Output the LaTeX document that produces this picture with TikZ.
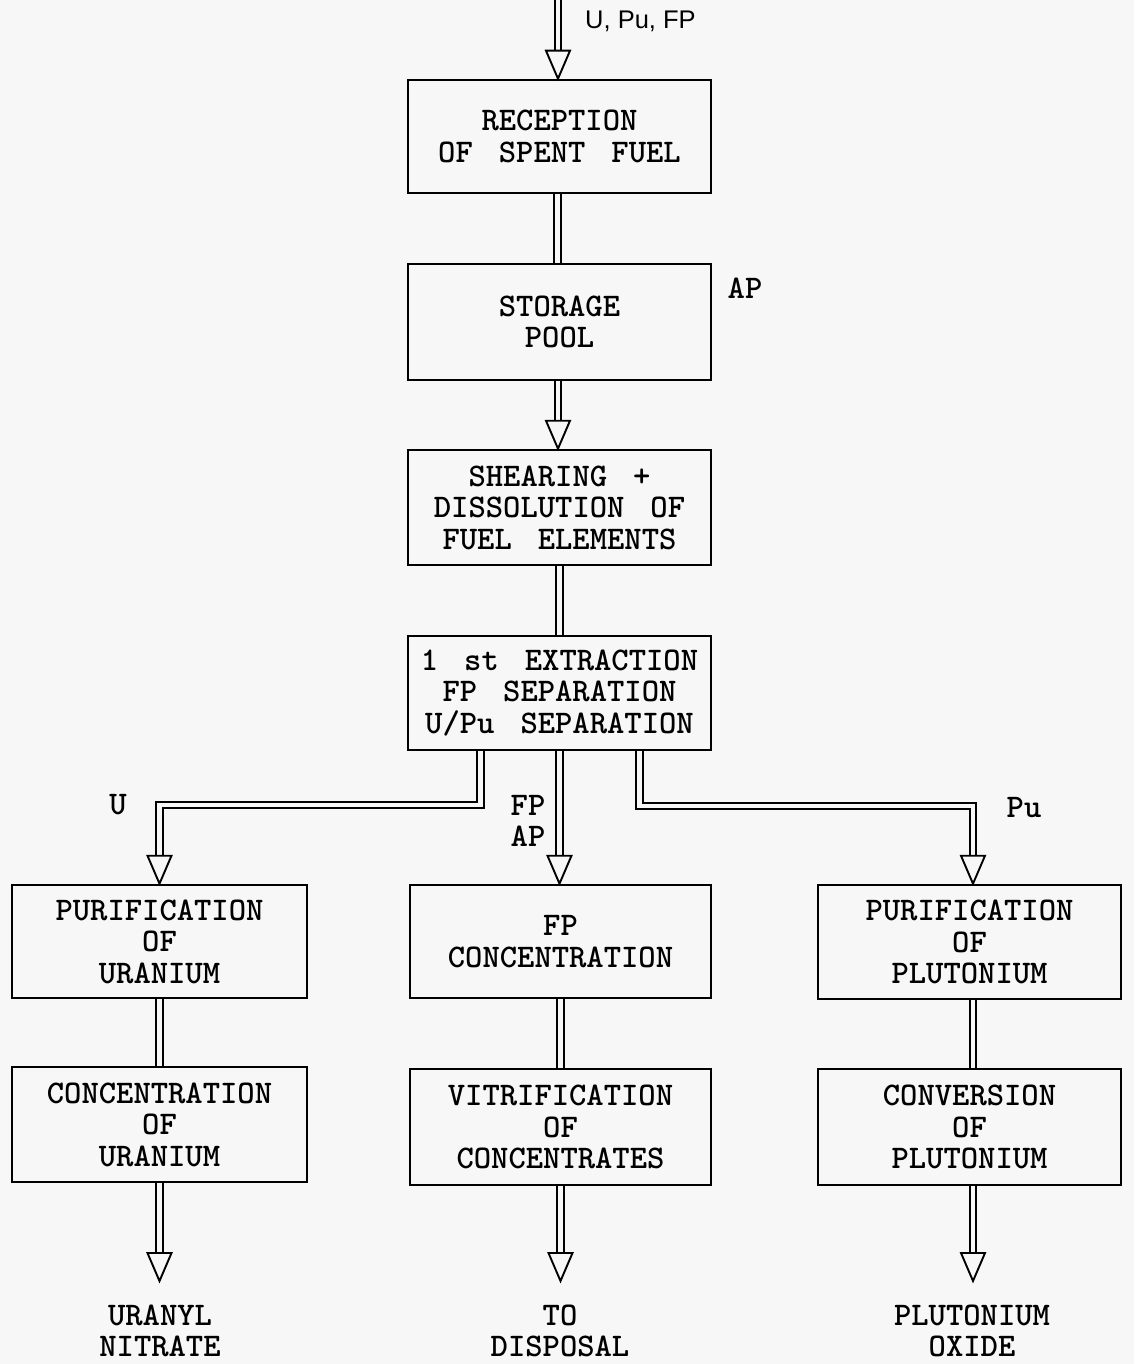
\documentclass[tikz,border=0pt]{standalone}
\usepackage{fontspec}
\newfontfamily\tw[Extension=.otf, UprightFont=lmmono10-regular, BoldFont=lmmonolt10-bold, WordSpace=1.5]{lmmono10-regular}
\newfontfamily\labsans{Liberation Sans}
\usetikzlibrary{calc}
\definecolor{bgc}{RGB}{247,247,247}
\tikzset{
  txt/.style={font=\tw\bfseries\fontsize{33}{31.5}\selectfont},
  box/.style={draw, line width=2.6pt, inner sep=0pt, align=center, txt},
  lab/.style={inner sep=0pt, align=center, txt},
  pipe/.style={line width=1.9pt, double=bgc, double distance=4.5pt, line join=miter},
  headed/.style={pipe, shorten >=25pt},
  tip/.pic={\draw[line width=1.9pt, fill=bgc, line join=miter] (0,0) -- (-12,-28) -- (12,-28) -- cycle;}
}
\begin{document}
\begin{tikzpicture}[x=1pt,y=-1pt]
\fill[bgc] (0,0) rectangle (1134,1364);
\useasboundingbox (0,0) rectangle (1134,1364);

% boxes
\node[box, minimum width=303pt, minimum height=113pt] (rec) at (559.5,136.5) {RECEPTION\\OF SPENT FUEL};
\node[box, minimum width=303pt, minimum height=116pt] (sto) at (559.5,322) {STORAGE\\POOL};
\node[box, minimum width=303pt, minimum height=115pt] (she) at (559.5,507.5) {SHEARING +\\DISSOLUTION OF\\FUEL ELEMENTS};
\node[box, minimum width=303pt, minimum height=114pt] (ext) at (559.5,693) {1 st EXTRACTION\\FP SEPARATION\\U/Pu SEPARATION};
\node[box, minimum width=295pt, minimum height=113pt] (pu1) at (159.5,941.5) {PURIFICATION\\OF\\URANIUM};
\node[box, minimum width=301pt, minimum height=113pt] (fpc) at (560.5,941.5) {FP\\CONCENTRATION};
\node[box, minimum width=303pt, minimum height=114pt] (pp1) at (969.5,942) {PURIFICATION\\OF\\PLUTONIUM};
\node[box, minimum width=295pt, minimum height=115pt] (cu) at (159.5,1124.5) {CONCENTRATION\\OF\\URANIUM};
\node[box, minimum width=301pt, minimum height=116pt] (vit) at (560.5,1127) {VITRIFICATION\\OF\\CONCENTRATES};
\node[box, minimum width=303pt, minimum height=116pt] (cp) at (969.5,1127) {CONVERSION\\OF\\PLUTONIUM};

% output labels
\node[lab] (o1) at (160,1331) {URANYL\\NITRATE};
\node[lab] (o2) at (560,1331) {TO\\DISPOSAL};
\node[lab] (o3) at (972,1331) {PLUTONIUM\\OXIDE};

% other labels
\node[anchor=west, inner sep=0pt, font=\labsans\fontsize{25.5}{27}\selectfont] (in) at (585,21) {U, Pu, FP};
\node[lab] (ap1) at (745,288) {AP};
\node[lab] (lu) at (118,805) {U};
\node[lab] (lfp) at (528,821) {FP\\AP};
\node[lab] (lpu) at (1024,808) {Pu};

% coordinates
\coordinate (top) at (558,0);
\coordinate (ub) at (159.5,805);
\coordinate (pb) at (973,806);
\coordinate (e1) at (159.5,1281);
\coordinate (e2) at (560.5,1281);
\coordinate (e3) at (973,1281);

% connectors
\draw[headed] (top) -- (top |- rec.north);
\pic at (top |- rec.north) {tip};
\draw[pipe] ([xshift=-2pt]rec.south) -- ([xshift=-2pt]sto.north);
\draw[headed] ([xshift=-1.5pt]sto.south) -- ([xshift=-1.5pt]she.north);
\pic at ([xshift=-1.5pt]she.north) {tip};
\draw[pipe] (she.south) -- (ext.north);
\draw[headed] (ext.south) -- (ext.south |- fpc.north);
\pic at (ext.south |- fpc.north) {tip};
\draw[headed] ([xshift=-79pt]ext.south) |- (ub) -- (pu1.north);
\pic at (pu1.north) {tip};
\draw[headed] ([xshift=80pt]ext.south) |- (pb) -- (pb |- pp1.north);
\pic at (pb |- pp1.north) {tip};
\draw[pipe] (pu1.south) -- (cu.north);
\draw[pipe] (fpc.south) -- (vit.north);
\draw[pipe] (pb |- pp1.south) -- (pb |- cp.north);
\draw[headed] (cu.south) -- (e1);
\pic at (e1) {tip};
\draw[headed] (vit.south) -- (e2);
\pic at (e2) {tip};
\draw[headed] (e3 |- cp.south) -- (e3);
\pic at (e3) {tip};
\end{tikzpicture}
\end{document}
